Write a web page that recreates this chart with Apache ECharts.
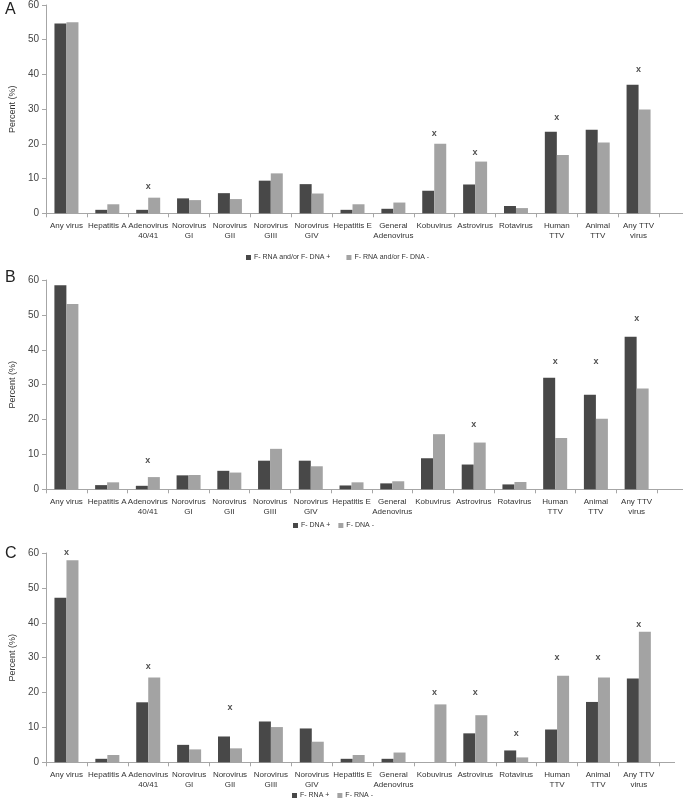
<!DOCTYPE html>
<html>
<head>
<meta charset="utf-8">
<script src="https://cdn.jsdelivr.net/npm/echarts@6/dist/echarts.min.js"></script>
<style>
  html, body { margin: 0; padding: 0; background: #fff; }
</style>
</head>
<body>
<!-- chart container -->
<div id="myChart" style="width:684px;height:801px;"></div>
<script>
// categories (shared by the three panels)
var categories = ['Any virus', 'Hepatitis A', 'Adenovirus\n40/41', 'Norovirus\nGI', 'Norovirus\nGII',
  'Norovirus\nGIII', 'Norovirus\nGIV', 'Hepatitis E', 'General\nAdenovirus', 'Kobuvirus',
  'Astrovirus', 'Rotavirus', 'Human\nTTV', 'Animal\nTTV', 'Any TTV\nvirus'];
var yTicks = [0, 10, 20, 30, 40, 50, 60];

// panel A
var namesA = ['F- RNA and/or F- DNA +', 'F- RNA and/or F- DNA -'];
var aPos = [54.7, 1.0, 1.0, 4.3, 5.8, 9.4, 8.4, 1.0, 1.3, 6.5, 8.3, 2.1, 23.5, 24.1, 37.0];
var aNeg = [55.0, 2.6, 4.5, 3.8, 4.1, 11.5, 5.7, 2.6, 3.1, 20.0, 14.9, 1.5, 16.8, 20.4, 29.9];
var aMarks = [null, null, 7.8, null, null, null, null, null, null, 23.0, 17.6, null, 27.7, null, 41.3];

// panel B
var namesB = ['F- DNA +', 'F- DNA -'];
var bPos = [58.5, 1.2, 1.0, 4.0, 5.3, 8.2, 8.2, 1.1, 1.7, 8.9, 7.1, 1.4, 32.0, 27.1, 43.7];
var bNeg = [53.1, 2.0, 3.5, 4.1, 4.8, 11.6, 6.6, 2.0, 2.3, 15.8, 13.4, 2.1, 14.7, 20.2, 28.9];
var bMarks = [null, null, 8.2, null, null, null, null, null, null, null, 18.5, null, 36.6, 36.7, 49.0];

// panel C
var namesC = ['F- RNA +', 'F- RNA -'];
var cPos = [47.2, 1.0, 17.2, 5.0, 7.4, 11.7, 9.7, 1.0, 1.0, 0, 8.3, 3.4, 9.4, 17.3, 24.0];
var cNeg = [57.9, 2.1, 24.3, 3.7, 4.0, 10.1, 5.9, 2.1, 2.8, 16.6, 13.5, 1.4, 24.8, 24.3, 37.4];
var cMarks = [60.0, null, 27.6, null, 15.7, null, null, null, null, 20.0, 20.1, 8.2, 30.0, 30.1, 39.4];

var DARK = '#484848';
var LIGHT = '#a3a3a3';
var AXIS = '#a6a6a6';
var FONT = '"Liberation Sans", Arial, sans-serif';

// grid boxes [left, top, width, height, axisEnd]
var grids = [
  [35, 3.3, 624, 210, 683],
  [35, 280, 622, 209.3, 683],
  [39.3, 553, 620, 209.3, 675]
];

var myChart = echarts.init(document.getElementById('myChart'));

function xAxisFor(i) {
  return {
    type: 'category', gridIndex: i, data: categories,
    axisLine: { lineStyle: { color: AXIS, width: 1 } },
    axisTick: { show: true, interval: 0, length: 4, lineStyle: { color: AXIS } },
    axisLabel: { interval: 0, fontSize: 8, color: '#333', fontFamily: FONT, margin: 7, lineHeight: 10 }
  };
}
function yAxisFor(i) {
  return {
    type: 'value', gridIndex: i, min: yTicks[0], max: yTicks[yTicks.length - 1], interval: 10,
    name: 'Percent (%)', nameLocation: 'middle', nameGap: 22,
    nameTextStyle: { fontSize: 9, color: '#333', fontFamily: FONT },
    axisLine: { show: true, lineStyle: { color: AXIS } },
    axisTick: { show: true, length: 4, lineStyle: { color: AXIS } },
    splitLine: { show: false },
    axisLabel: { fontSize: 10, color: '#444', fontFamily: FONT, margin: 7 }
  };
}
function barsFor(i, names, pos, neg, marks) {
  return [
    { name: names[0], type: 'bar', xAxisIndex: i, yAxisIndex: i, data: pos,
      barWidth: 12, barGap: '0%', itemStyle: { color: DARK } },
    { name: names[1], type: 'bar', xAxisIndex: i, yAxisIndex: i, data: neg,
      barWidth: 12, barGap: '0%', itemStyle: { color: LIGHT } },
    { type: 'scatter', xAxisIndex: i, yAxisIndex: i, symbolSize: 0, silent: true,
      data: marks.map(function(v, k) { return v == null ? null : [k, v]; }).filter(function(d) { return d; }),
      label: { show: true, position: 'inside', formatter: 'x', fontSize: 9, fontWeight: 'bold',
        color: '#222', fontFamily: FONT } }
  ];
}
function legendFor(names, left, top, gap) {
  return {
    data: names, left: left, top: top, padding: 0, icon: 'rect', itemWidth: 5, itemHeight: 5, itemGap: gap,
    selectedMode: false,
    textStyle: { fontSize: 7, color: '#333', fontFamily: FONT, padding: [0, 0, 0, -2] }
  };
}

var option = {
  animation: false,
  backgroundColor: '#fff',
  title: [
    { text: 'A', left: 0, top: -3, textStyle: { fontSize: 16, fontWeight: 'normal', color: '#222', fontFamily: FONT } },
    { text: 'B', left: 0, top: 265, textStyle: { fontSize: 16, fontWeight: 'normal', color: '#222', fontFamily: FONT } },
    { text: 'C', left: 0, top: 541, textStyle: { fontSize: 16, fontWeight: 'normal', color: '#222', fontFamily: FONT } }
  ],
  legend: [
    legendFor(namesA, 246, 254, 16),
    legendFor(namesB, 293, 522, 8),
    legendFor(namesC, 292, 792, 8)
  ],
  grid: grids.map(function(g) {
    return { left: g[0], top: g[1], width: g[2], height: g[3], containLabel: false };
  }),
  xAxis: [xAxisFor(0), xAxisFor(1), xAxisFor(2)],
  yAxis: [yAxisFor(0), yAxisFor(1), yAxisFor(2)],
  series: [].concat(
    barsFor(0, namesA, aPos, aNeg, aMarks),
    barsFor(1, namesB, bPos, bNeg, bMarks),
    barsFor(2, namesC, cPos, cNeg, cMarks)
  ),
  // the x axis line runs on a little past the last category
  graphic: grids.map(function(g) {
    var y = Math.round(g[1] + g[3]) + 0.5;
    return { type: 'line', shape: { x1: g[0] + g[2], y1: y, x2: g[4], y2: y },
      style: { stroke: AXIS, lineWidth: 1 }, silent: true };
  })
};
myChart.setOption(option);
</script>
</body>
</html>
